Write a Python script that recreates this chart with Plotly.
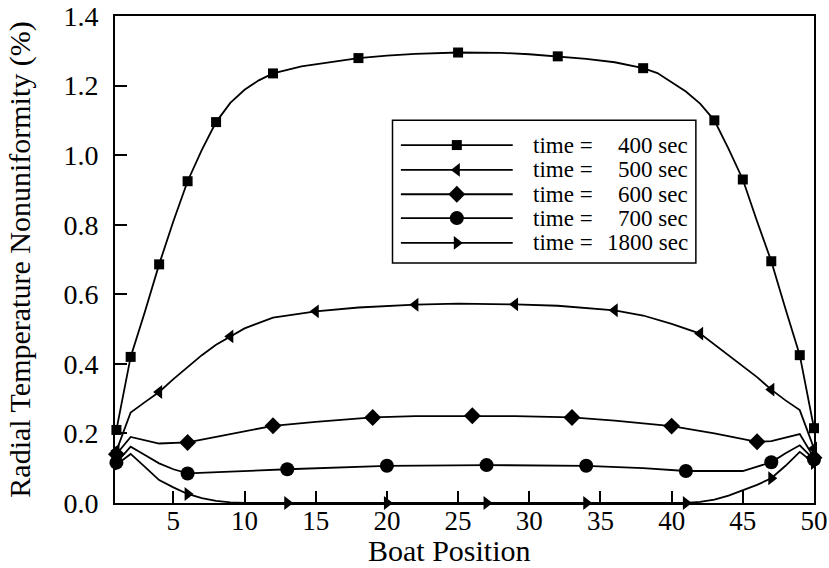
import plotly.graph_objects as go

# ---- data ----
x400 = [1, 2, 3, 4, 5, 6, 7, 8, 9, 10, 11, 12, 14, 16, 18, 20, 22, 25, 28, 30, 32, 34, 36, 38, 39, 40, 41, 42, 43, 44, 45, 46, 47, 48, 49, 50]
y400 = [0.21, 0.42, 0.55, 0.686, 0.81, 0.925, 1.015, 1.095, 1.15, 1.188, 1.215, 1.235, 1.255, 1.268, 1.279, 1.286, 1.291, 1.295, 1.294, 1.29, 1.284, 1.277, 1.267, 1.25, 1.236, 1.21, 1.183, 1.148, 1.1, 1.018, 0.93, 0.81, 0.695, 0.558, 0.425, 0.215]
m400 = [1, 2, 4, 6, 8, 12, 18, 25, 32, 38, 43, 45, 47, 49, 50]

x500 = [1, 2, 3, 4, 5, 6, 7, 8, 9, 10, 12, 15, 18, 22, 25, 29, 32, 36, 38, 40, 42, 44, 46, 47, 48, 49, 50]
y500 = [0.15, 0.26, 0.29, 0.319, 0.356, 0.39, 0.425, 0.455, 0.479, 0.502, 0.533, 0.551, 0.562, 0.570, 0.573, 0.571, 0.567, 0.554, 0.539, 0.515, 0.487, 0.425, 0.362, 0.326, 0.295, 0.267, 0.157]
m500 = [1, 4, 9, 15, 22, 29, 36, 42, 47, 50]

x600 = [1, 2, 4, 6, 8, 10, 12, 15, 19, 22, 26, 29, 33, 36, 40, 43, 46, 47, 49, 50]
y600 = [0.14, 0.19, 0.171, 0.174, 0.19, 0.207, 0.222, 0.233, 0.246, 0.25, 0.251, 0.25, 0.246, 0.237, 0.221, 0.2, 0.176, 0.178, 0.198, 0.13]
m600 = [1, 6, 12, 19, 26, 33, 40, 46, 50]

x700 = [1, 2, 3, 4, 5, 6, 9, 13, 20, 27, 34, 38, 41, 45, 47, 48, 49, 50]
y700 = [0.116, 0.162, 0.138, 0.114, 0.097, 0.085, 0.09, 0.097, 0.107, 0.109, 0.107, 0.1, 0.092, 0.092, 0.117, 0.143, 0.166, 0.125]
m700 = [1, 6, 13, 20, 27, 34, 41, 47, 50]

x1800 = [1, 2, 3, 4, 5, 6, 7, 8, 9, 10, 13, 20, 27, 34, 41, 42, 43, 44, 45, 46, 47, 48, 49, 50]
y1800 = [0.11, 0.141, 0.104, 0.066, 0.045, 0.026, 0.014, 0.006, 0.002, 0.0, 0.0, 0.0, 0.0, 0.0, 0.0, 0.003, 0.01, 0.021, 0.037, 0.052, 0.071, 0.107, 0.147, 0.115]
m1800 = [1, 6, 13, 20, 27, 34, 41, 47, 50]

labels = ["400 sec", "500 sec", "600 sec", "700 sec", "1800 sec"]
x_ticks = [5, 10, 15, 20, 25, 30, 35, 40, 45, 50]
y_ticks = [0.0, 0.2, 0.4, 0.6, 0.8, 1.0, 1.2, 1.4]

series = [
    (x400, y400, m400, "square", 10),
    (x500, y500, m500, "triangle-left", 12),
    (x600, y600, m600, "diamond", 13),
    (x700, y700, m700, "circle", 14),
    (x1800, y1800, m1800, "triangle-right", 12),
]

FONT = "Liberation Serif"
fig = go.Figure()

for (xs, ys, ms, sym, sz), lab in zip(series, labels):
    fig.add_trace(go.Scatter(x=xs, y=ys, mode="lines", line=dict(color="black", width=1.8),
                             showlegend=False, cliponaxis=False, hoverinfo="skip"))
    lookup = dict(zip(xs, ys))
    fig.add_trace(go.Scatter(x=ms, y=[lookup[m] for m in ms], mode="markers", name="time = " + lab,
                             marker=dict(symbol=sym, size=sz, color="black"),
                             showlegend=False, cliponaxis=False))

# ---- legend drawn as a framed box (paper coordinates) ----
row_y = [0.735, 0.684, 0.634, 0.585, 0.534]
fig.add_shape(type="rect", xref="paper", yref="paper", x0=0.397, x1=0.831, y0=0.493, y1=0.786,
              line=dict(color="black", width=1.5), fillcolor="white", layer="below")
for (xs, ys, ms, sym, sz), lab, ry in zip(series, labels, row_y):
    fig.add_shape(type="line", xref="paper", yref="paper", x0=0.409, x1=0.569, y0=ry, y1=ry,
                  line=dict(color="black", width=1.8), layer="below")
    fig.add_trace(go.Scatter(x=[0.489], y=[ry], xaxis="x2", yaxis="y2", mode="markers",
                             marker=dict(symbol=sym, size=sz, color="black"),
                             showlegend=False, hoverinfo="skip", cliponaxis=False))
    fig.add_annotation(xref="paper", yref="paper", x=0.595, y=ry, text="time =", showarrow=False,
                       xanchor="left", yanchor="middle", font=dict(size=23, color="black", family=FONT))
    fig.add_annotation(xref="paper", yref="paper", x=0.822, y=ry, text=lab, showarrow=False,
                       xanchor="right", yanchor="middle", font=dict(size=23, color="black", family=FONT))

# x-axis title placed at the bottom edge
fig.add_annotation(xref="paper", yref="paper", x=0.478, y=-0.1335, text="Boat Position", showarrow=False,
                   xanchor="center", yanchor="bottom", borderpad=0,
                   font=dict(size=30, color="black", family=FONT))

fig.update_layout(
    template="none",
    width=829, height=568,
    margin=dict(l=115, r=15, t=16, b=65),
    paper_bgcolor="white", plot_bgcolor="white",
    font=dict(family=FONT, color="black", size=27),
    xaxis=dict(range=[0.9, 50], tickvals=x_ticks, ticks="inside", ticklen=12, tickwidth=1.5,
               tickcolor="black", showline=True, linecolor="black", linewidth=2, mirror=True,
               showgrid=False, zeroline=False, tickfont=dict(size=27), automargin=False,
               ticklabelstandoff=-7),
    yaxis=dict(range=[0, 1.4], tickvals=y_ticks, tickformat=".1f", ticks="inside", ticklen=12,
               tickwidth=1.5, tickcolor="black", showline=True, linecolor="black", linewidth=2,
               mirror=True, showgrid=False, zeroline=False, tickfont=dict(size=28),
               ticklabelstandoff=9, automargin=False,
               title=dict(text="Radial Temperature Nonuniformity (%)", font=dict(size=30), standoff=24)),
    xaxis2=dict(overlaying="x", range=[0, 1], visible=False),
    yaxis2=dict(overlaying="y", range=[0, 1], visible=False),
)

fig.write_html("out.html")
